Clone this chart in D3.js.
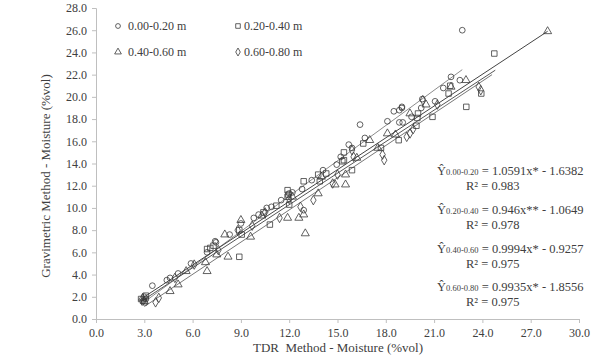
<!DOCTYPE html>
<html><head><meta charset="utf-8">
<script src="https://cdn.jsdelivr.net/npm/d3@7"></script>
<style>body{margin:0;background:#fff}svg{display:block}text{font-family:"Liberation Serif","Times New Roman",serif}</style>
</head><body><svg id="c" width="598" height="358"></svg>
<script>
const xTicks = [0,3,6,9,12,15,18,21,24,27,30];
const yTicks = [0,2,4,6,8,10,12,14,16,18,20,22,24,26,28];
const seriesNames = ["0.00-0.20 m","0.20-0.40 m","0.40-0.60 m","0.60-0.80 m"];
const seriesShapes = ["circle","square","triangle","diamond"];

const s1 = [[2.9,1.6],[3.0,2.0],[3.1,1.8],[3.5,3.0],[4.4,3.5],[4.6,3.7],[5.1,4.1],[5.9,5.0],[6.9,6.0],[7.45,6.9],[7.4,7.0],[8.3,7.6],[9.0,8.6],[9.8,9.1],[10.1,9.4],[10.6,10.0],[10.9,10.1],[11.5,10.7],[12.0,11.3],[12.2,11.4],[12.8,11.7],[12.9,9.8],[13.4,12.5],[14.1,13.4],[14.95,13.9],[15.2,14.6],[15.7,15.7],[15.9,15.4],[16.4,17.5],[16.7,16.3],[18.1,17.8],[18.5,18.7],[18.84,18.8],[19.0,19.0],[18.84,17.7],[19.05,17.7],[19.6,18.2],[20.2,19.0],[20.27,19.8],[21.06,19.6],[21.57,20.8],[22.05,21.8],[22.6,21.5],[22.75,26.0],[19.0,19.1]];
const s2 = [[2.8,1.8],[3.0,1.5],[3.1,2.1],[6.9,6.3],[7.1,6.4],[7.3,6.6],[8.9,8.0],[9.05,7.6],[8.9,5.6],[10.4,9.6],[10.8,8.5],[11.2,10.2],[11.9,11.0],[11.9,11.6],[12.0,10.3],[11.95,11.2],[12.9,12.4],[13.8,13.0],[13.9,12.4],[14.3,13.1],[15.3,14.2],[15.4,15.0],[15.4,14.3],[15.9,13.4],[16.6,15.8],[17.7,15.4],[18.8,16.1],[19.9,17.4],[19.96,18.1],[20.0,18.5],[20.9,18.2],[21.9,20.3],[22.0,21.0],[23.0,19.1],[23.93,20.3],[24.74,23.9]];
const s3 = [[2.9,1.9],[3.0,1.6],[4.6,2.5],[5.1,3.1],[5.6,4.3],[6.8,5.1],[6.9,4.3],[7.5,5.8],[8.0,7.6],[8.2,5.6],[9.0,8.9],[9.6,7.4],[10.3,9.3],[11.9,9.1],[12.2,11.0],[12.6,9.1],[12.9,9.4],[13.0,7.7],[13.8,11.3],[14.0,12.8],[14.85,12.1],[15.5,12.1],[15.5,13.0],[16.2,14.5],[17.0,16.1],[17.5,15.4],[18.1,16.7],[18.6,16.6],[19.5,18.5],[20.5,19.3],[22.05,20.9],[22.98,21.5],[28.05,25.9]];
const s4 = [[2.95,1.7],[3.7,1.5],[3.9,1.9],[4.9,3.7],[6.1,4.9],[7.6,6.2],[8.8,8.0],[9.7,8.4],[10.5,9.6],[11.4,9.1],[12.0,10.8],[12.7,10.1],[13.5,10.7],[14.7,12.2],[15.0,13.0],[15.9,15.2],[16.0,14.6],[17.8,14.8],[17.9,14.3],[19.3,16.4],[19.5,16.7],[19.7,17.1],[20.3,19.7],[21.2,19.3],[23.77,20.9],[23.9,20.6]];
const seriesData = [s1,s2,s3,s4];

// trend line endpoints: [x0,y0,x1,y1]
const trendLines = [[2.9,1.43,22.75,22.45],[2.8,1.58,24.8,22.4],[2.9,1.9,28.05,25.9],[3.0,1.12,24.6,22.0]];
const trendColors = ["#8c8c8c","#555","#444","#777"];

const eqSubs = ["0.00-0.20","0.20-0.40","0.40-0.60","0.60-0.80"];
const eqRhs = [" = 1.0591x* - 1.6382"," = 0.946x** - 1.0649"," = 0.9994x* - 0.9257"," = 0.9935x* - 1.8556"];
const eqR2 = ["R² = 0.983","R² = 0.978","R² = 0.975","R² = 0.975"];

const svg = d3.select("#c");
const x = d3.scaleLinear().domain([0,30]).range([96,579]);
const y = d3.scaleLinear().domain([0,28]).range([319,8]);
const axCol = "#bfbfbf", txtCol = "#404040";

const xa = svg.append("g").attr("transform","translate(0,319)")
  .call(d3.axisBottom(x).tickValues(xTicks).tickFormat(d3.format(".1f")).tickSize(4).tickPadding(5));
const ya = svg.append("g").attr("transform","translate(96,0)")
  .call(d3.axisLeft(y).tickValues(yTicks).tickFormat(d3.format(".1f")).tickSize(4).tickPadding(5));
[xa,ya].forEach(a=>{
  a.selectAll("path,line").attr("stroke",axCol);
  a.selectAll("text").attr("fill",txtCol).style("font-size","12px").style("font-family","'Liberation Serif',serif");
});

svg.append("text").attr("x",338).attr("y",352).attr("text-anchor","middle").attr("fill",txtCol)
  .style("font-size","13px").style("white-space","pre").text("TDR  Method - Moisture (%vol)");
svg.append("text").attr("transform","translate(50,176) rotate(-90)").attr("text-anchor","middle").attr("fill",txtCol)
  .style("font-size","13px").text("Gravimetric Method - Moisture (%vol)");

// trend lines
svg.append("g").selectAll("line").data(trendLines).join("line")
  .attr("x1",d=>x(d[0])).attr("y1",d=>y(d[1])).attr("x2",d=>x(d[2])).attr("y2",d=>y(d[3]))
  .attr("stroke",(d,i)=>trendColors[i]).attr("stroke-width",1);

const symSize = {circle:26, square:30, triangle:28, diamond:26};
const symType = {circle:d3.symbolCircle, square:d3.symbolSquare, triangle:d3.symbolTriangle, diamond:d3.symbolDiamond};
const sym = (shape, k=1) => d3.symbol().type(symType[shape]).size(symSize[shape]*k)();
seriesData.forEach((data,i)=>{
  svg.append("g").selectAll("path").data(data).join("path")
    .attr("transform",d=>`translate(${x(d[0])},${y(d[1])})`)
    .attr("d",sym(seriesShapes[i]))
    .attr("fill","none").attr("stroke","#3a3a3a").attr("stroke-width",0.8);
});

// legend
const legPos = [[118,26],[238,26],[118,52],[238,52]];
seriesNames.forEach((n,i)=>{
  const g = svg.append("g").attr("transform",`translate(${legPos[i][0]},${legPos[i][1]})`);
  g.append("path").attr("d",sym(seriesShapes[i],0.7)).attr("fill","none").attr("stroke","#3a3a3a").attr("stroke-width",0.8);
  g.append("text").attr("x",i%2===0?10:6).attr("y",4).attr("fill",txtCol).style("font-size","12px").text(n);
});

// equations
const eqY = [175,214,253,291];
eqSubs.forEach((s,i)=>{
  const t = svg.append("text").attr("x",437).attr("y",eqY[i]).attr("fill",txtCol).style("font-size","12.5px");
  t.append("tspan").text("Ŷ");
  t.append("tspan").style("font-size","8.5px").text(s);
  t.append("tspan").text(eqRhs[i]);
  svg.append("text").attr("x",466).attr("y",eqY[i]+15).attr("fill",txtCol).style("font-size","12.5px").text(eqR2[i]);
});
</script></body></html>
